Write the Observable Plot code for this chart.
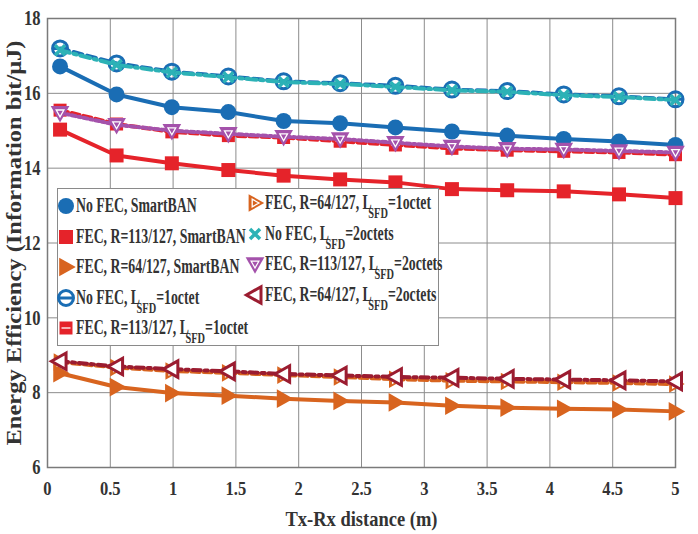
<!DOCTYPE html>
<html><head><meta charset="utf-8">
<script src="https://cdn.jsdelivr.net/npm/d3@7"></script>
<script src="https://cdn.jsdelivr.net/npm/@observablehq/plot@0.6"></script>
<style>
html,body{margin:0;padding:0;background:#fff;}
#wrap{position:relative;width:698px;height:534px;}
#legend{position:absolute;left:57px;top:188px;width:382px;height:158px;border:1.5px solid #8a8a8a;background:#fff;box-sizing:border-box;font-family:"Liberation Serif",serif;font-weight:bold;color:#333;}
.ent{position:absolute;white-space:nowrap;font-size:20px;line-height:20px;transform:scaleX(0.69);transform-origin:0 50%;}
.ent sub{font-size:15px;vertical-align:-9px;line-height:0;margin-left:-5px;}
.mk{position:absolute;overflow:visible;}
</style>
</head><body>
<div id="wrap"><div id="legend"></div></div>
<script>
// ---------- data ----------
const xs = [0.1, 0.55, 0.99, 1.44, 1.88, 2.33, 2.77, 3.22, 3.66, 4.11, 4.55, 5];
const xTicks = [0, 0.5, 1, 1.5, 2, 2.5, 3, 3.5, 4, 4.5, 5];
const yTicks = [6, 8, 10, 12, 14, 16, 18];
const noFecSmart  = [16.72, 15.97, 15.63, 15.50, 15.26, 15.20, 15.09, 14.98, 14.87, 14.78, 14.71, 14.62];
const fec113Smart = [15.03, 14.34, 14.13, 13.95, 13.80, 13.70, 13.62, 13.44, 13.41, 13.38, 13.30, 13.20];
const fec64Smart  = [8.52, 8.15, 7.99, 7.92, 7.84, 7.78, 7.74, 7.65, 7.60, 7.57, 7.55, 7.50];
const noFec1      = [17.20, 16.80, 16.58, 16.45, 16.32, 16.27, 16.20, 16.10, 16.06, 15.97, 15.92, 15.84];
const fec113_1    = [15.55, 15.18, 14.97, 14.87, 14.82, 14.72, 14.62, 14.53, 14.48, 14.45, 14.42, 14.36];
const fec64_1     = [8.82, 8.67, 8.58, 8.53, 8.47, 8.42, 8.36, 8.32, 8.30, 8.28, 8.26, 8.23];
const noFec2      = [17.15, 16.76, 16.56, 16.43, 16.30, 16.25, 16.17, 16.08, 16.04, 15.95, 15.90, 15.82];
const fec113_2    = [15.48, 15.16, 15.00, 14.92, 14.84, 14.78, 14.68, 14.58, 14.52, 14.50, 14.46, 14.42];
const fec64_2     = [8.84, 8.70, 8.63, 8.57, 8.50, 8.46, 8.42, 8.40, 8.37, 8.35, 8.33, 8.30];
const labels = [
  ["No FEC, SmartBAN"], ["FEC, R=113/127, SmartBAN"], ["FEC, R=64/127, SmartBAN"],
  ["No FEC, L", "SFD", "=1octet"], ["FEC, R=113/127, L", "SFD", "=1octet"], ["FEC, R=64/127, L", "SFD", "=1octet"],
  ["No FEC, L", "SFD", "=2octets"], ["FEC, R=113/127, L", "SFD", "=2octets"], ["FEC, R=64/127, L", "SFD", "=2octets"]
];
const xLabel = "Tx-Rx distance (m)";
const yLabel = "Energy Efficiency (Information bit/μJ)";

// ---------- symbols ----------
const mk = f => ({draw(c, size){ f(c, Math.sqrt(size / Math.PI)); }});
const circ = mk((c,r)=>{ c.moveTo(r,0); c.arc(0,0,r,0,2*Math.PI); });
const circBar = mk((c,r)=>{ c.moveTo(r,0); c.arc(0,0,r,0,2*Math.PI); c.moveTo(-r,0); c.lineTo(r,0); });
const sq = mk((c,r)=>{ c.rect(-r,-r,2*r,2*r); });
const bar = mk((c,r)=>{ c.moveTo(-r,0); c.lineTo(r,0); });
const triR = mk((c,r)=>{ c.moveTo(r*1.15,0); c.lineTo(-r*0.8,-r*1.1); c.lineTo(-r*0.8,r*1.1); c.closePath(); });
const triL = mk((c,r)=>{ c.moveTo(-r*1.15,0); c.lineTo(r*0.8,-r*1.1); c.lineTo(r*0.8,r*1.1); c.closePath(); });
const triD = mk((c,r)=>{ c.moveTo(0,r*1.15); c.lineTo(-r*1.1,-r*0.8); c.lineTo(r*1.1,-r*0.8); c.closePath(); });
const cross = mk((c,r)=>{ c.moveTo(-r,-r); c.lineTo(r,r); c.moveTo(-r,r); c.lineTo(r,-r); });

const blue="#1a6db4", red="#e5232a", orange="#d8641f", cyan="#2cb2b6", purple="#a452ab", dred="#9b1c30";
const series = [
  {ys:noFecSmart, color:blue, dash:null, sym:circ, fill:blue, stroke:"none", sw:0, r:8},
  {ys:fec113Smart, color:red, dash:null, sym:sq, fill:red, stroke:"none", sw:0, r:7},
  {ys:fec64Smart, color:orange, dash:null, sym:triR, fill:orange, stroke:"none", sw:0, r:8.5},
  {ys:noFec1, color:blue, dash:"9,5", sym:circBar, fill:"none", stroke:blue, sw:3, r:7.5},
  {ys:fec113_1, color:red, dash:"8,4", sym:sq, fill:red, stroke:"none", sw:0, r:6.5, inner:{sym:bar, r:4.5}},
  {ys:fec64_1, color:orange, dash:"8,4", sym:triR, fill:orange, stroke:"none", sw:0, r:8, inner:{sym:triR, r:3.5}},
  {ys:noFec2, color:cyan, dash:"10,4,3,4", sym:cross, fill:"none", stroke:cyan, sw:3.5, r:5},
  {ys:fec113_2, color:purple, dash:"4,3,2,3", sym:triD, fill:purple, stroke:"none", sw:0, r:8.5, inner:{sym:triD, r:3.5}},
  {ys:fec64_2, color:dred, dash:"8,4,3,4", sym:triL, fill:"#fff", stroke:dred, sw:3, r:7.5, inner:{sym:bar, r:3}}
];

const marks = [
  Plot.gridX(xTicks, {stroke:"#8c8c8c", strokeOpacity:1, strokeWidth:1}),
  Plot.gridY(yTicks, {stroke:"#8c8c8c", strokeOpacity:1, strokeWidth:1}),
  Plot.frame({stroke:"#7a7a7a", strokeWidth:1.5}),
  Plot.axisX(xTicks, {tickSize:0, tickPadding:14, tickFormat:d=>String(d), label:xLabel, labelAnchor:"center", labelOffset:58, labelArrow:"none"}),
  Plot.axisY(yTicks, {tickSize:0, tickPadding:7, label:yLabel, labelAnchor:"center", labelOffset:41, labelArrow:"none"})
];
series.forEach(s => {
  const rows = xs.map((x,i)=>({x, y:s.ys[i]}));
  marks.push(Plot.line(rows, {x:"x", y:"y", stroke:s.color, strokeWidth:4, strokeDasharray:s.dash ?? undefined}));
  marks.push(Plot.dot(rows, {x:"x", y:"y", symbol:s.sym, r:s.r, fill:s.fill, stroke:s.stroke, strokeWidth:s.sw}));
  if (s.inner) marks.push(Plot.dot(rows, {x:"x", y:"y", symbol:s.inner.sym, r:s.inner.r, fill:"none", stroke:"#fff", strokeWidth:1.3}));
});

const chart = Plot.plot({
  width:698, height:534,
  marginLeft:47, marginRight:23, marginTop:18, marginBottom:67,
  x:{domain:[0,5]}, y:{domain:[6,18]},
  style:{fontFamily:"'Liberation Serif', serif", fontWeight:"bold", fontSize:"19px", color:"#333", background:"#fff"},
  marks
});
const wrap = document.getElementById("wrap");
wrap.insertBefore(chart, wrap.firstChild);

// condense text like the reference
chart.querySelectorAll('g[aria-label="x-axis tick label"] text, g[aria-label="y-axis tick label"] text').forEach(t => {
  const L = t.getComputedTextLength();
  t.setAttribute("textLength", L*0.87); t.setAttribute("lengthAdjust","spacingAndGlyphs");
});
chart.querySelectorAll('g[aria-label="y-axis tick label"] text').forEach(t => { t.style.fontSize = "21px"; });
const xl = chart.querySelector('g[aria-label="x-axis label"] text');
if (xl) { xl.style.fontSize="21px"; xl.setAttribute("textLength",152); xl.setAttribute("lengthAdjust","spacingAndGlyphs"); }
const yl = chart.querySelector('g[aria-label="y-axis label"] text');
if (yl) { yl.style.fontSize="21px"; yl.setAttribute("textLength",405); yl.setAttribute("lengthAdjust","spacingAndGlyphs"); }

// ---------- legend ----------
const legend = document.getElementById("legend");
series.forEach((s,i) => {
  const col = i < 5 ? 0 : 1, row = col ? i-5 : i;
  const cy = (col ? 14 : 17) + row*30.5;
  const mx = col ? 197 : 8, tx = col ? 207 : 18;
  const svg = d3.create("svg").attr("class","mk").attr("width",24).attr("height",24)
    .style("left",(mx-12)+"px").style("top",(cy-12)+"px");
  const p = d3.path(); s.sym.draw(p, Math.PI*s.r*s.r);
  svg.append("path").attr("transform","translate(12,12)").attr("d",p.toString())
    .attr("fill",s.fill).attr("stroke",s.stroke).attr("stroke-width",s.sw);
  if (s.inner) { const q=d3.path(); s.inner.sym.draw(q, Math.PI*s.inner.r*s.inner.r);
    svg.append("path").attr("transform","translate(12,12)").attr("d",q.toString()).attr("fill","none").attr("stroke","#fff").attr("stroke-width",1.3); }
  legend.appendChild(svg.node());
  const e = document.createElement("div"); e.className="ent";
  e.style.left = tx+"px"; e.style.top = (cy-11)+"px";
  const lab = labels[i];
  e.innerHTML = lab.length===1 ? lab[0] : `${lab[0]}<sub>${lab[1]}</sub>${lab[2]}`;
  legend.appendChild(e);
});
</script>
</body></html>
